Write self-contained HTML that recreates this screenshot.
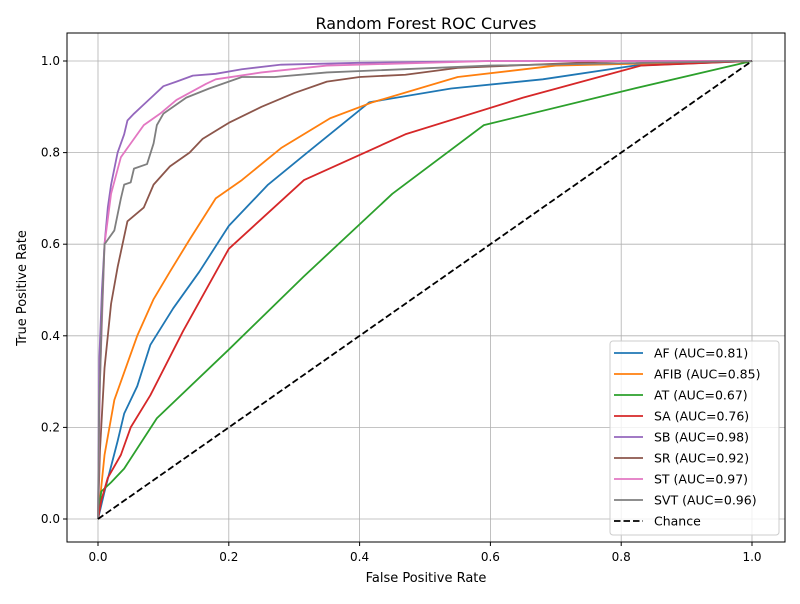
<!DOCTYPE html>
<html><head><meta charset="utf-8"><style>
body{margin:0;background:#fff;font-family:"DejaVu Sans","Liberation Sans",sans-serif}
svg text{font-family:"DejaVu Sans","Liberation Sans",sans-serif;fill:#000}
</style></head><body>
<svg id="chart" width="800" height="600" xmlns="http://www.w3.org/2000/svg">
<rect width="800" height="600" fill="#fff"/>
<g id="grid"></g>
<g id="series"></g>
<rect x="67" y="33" width="718" height="509" fill="none" stroke="#000" stroke-width="1"/>
<g id="ticks"></g>
<text x="426" y="29" font-size="16" text-anchor="middle">Random Forest ROC Curves</text>
<text x="426" y="582" font-size="13" text-anchor="middle">False Positive Rate</text>
<text x="0" y="0" font-size="13" text-anchor="middle" transform="translate(26,288) rotate(-90)">True Positive Rate</text>
<g id="legend"></g>
</svg>
<script>
const seriesNames = ["AF","AFIB","AT","SA","SB","SR","ST","SVT"];
const aucValues = ["0.81","0.85","0.67","0.76","0.98","0.92","0.97","0.96"];
const colors = ["#1f77b4","#ff7f0e","#2ca02c","#d62728","#9467bd","#8c564b","#e377c2","#7f7f7f"];
const tickValues = [0,0.2,0.4,0.6,0.8,1.0];
const tickLabels = ["0.0","0.2","0.4","0.6","0.8","1.0"];
const fprAF = [0,0.01,0.03,0.04,0.06,0.08,0.115,0.155,0.2,0.26,0.32,0.415,0.54,0.68,0.82,1];
const tprAF = [0,0.06,0.17,0.23,0.29,0.38,0.46,0.54,0.64,0.73,0.8,0.91,0.94,0.96,0.99,1];
const fprAFIB = [0,0.01,0.025,0.04,0.06,0.085,0.11,0.14,0.18,0.22,0.28,0.355,0.42,0.55,0.7,1];
const tprAFIB = [0,0.14,0.26,0.32,0.4,0.48,0.54,0.61,0.7,0.74,0.81,0.875,0.91,0.965,0.99,1];
const fprAT = [0,0.005,0.02,0.04,0.09,0.2,0.315,0.45,0.59,0.82,1];
const tprAT = [0,0.06,0.08,0.11,0.22,0.37,0.53,0.71,0.86,0.94,1];
const fprSA = [0,0.005,0.015,0.035,0.05,0.08,0.13,0.2,0.315,0.47,0.65,0.83,1];
const tprSA = [0,0.04,0.09,0.14,0.2,0.27,0.41,0.59,0.74,0.84,0.92,0.99,1];
const fprSB = [0,0.002,0.006,0.01,0.015,0.02,0.03,0.04,0.045,0.055,0.07,0.085,0.1,0.12,0.145,0.18,0.22,0.28,0.4,0.6,1];
const tprSB = [0,0.35,0.5,0.6,0.68,0.73,0.8,0.84,0.87,0.885,0.905,0.925,0.945,0.955,0.968,0.972,0.982,0.992,0.996,1,1];
const fprSR = [0,0.003,0.01,0.02,0.03,0.045,0.07,0.085,0.11,0.14,0.16,0.2,0.25,0.3,0.35,0.4,0.47,0.55,0.8,1];
const tprSR = [0,0.15,0.33,0.47,0.55,0.65,0.68,0.73,0.77,0.8,0.83,0.865,0.9,0.93,0.955,0.965,0.97,0.985,1,1];
const fprST = [0,0.003,0.01,0.02,0.035,0.045,0.07,0.095,0.12,0.165,0.18,0.25,0.35,0.6,1];
const tprST = [0,0.3,0.6,0.71,0.79,0.81,0.86,0.885,0.915,0.95,0.96,0.975,0.99,1,1];
const fprSVT = [0,0.002,0.006,0.01,0.015,0.025,0.035,0.04,0.05,0.055,0.075,0.085,0.09,0.1,0.135,0.17,0.22,0.27,0.35,0.6,1];
const tprSVT = [0,0.25,0.45,0.6,0.61,0.63,0.7,0.73,0.735,0.765,0.775,0.82,0.86,0.885,0.92,0.94,0.965,0.965,0.975,0.99,1];
const fprAll = [fprAF,fprAFIB,fprAT,fprSA,fprSB,fprSR,fprST,fprSVT];
const tprAll = [tprAF,tprAFIB,tprAT,tprSA,tprSB,tprSR,tprST,tprSVT];

const NS="http://www.w3.org/2000/svg";
const xs = v => 98 + v*654;
const ys = v => 519 - v*458;
function mk(tag, attrs, parent){const e=document.createElementNS(NS,tag);for(const k in attrs)e.setAttribute(k,attrs[k]);parent.appendChild(e);return e;}
const grid=document.getElementById('grid'), ticks=document.getElementById('ticks'), ser=document.getElementById('series'), leg=document.getElementById('legend');
tickValues.forEach((v,i)=>{
  let g=mk('line',{x1:xs(v),x2:xs(v),y1:33,y2:542,stroke:'#b0b0b0','stroke-width':0.8},grid);
  
  
  g=mk('line',{x1:67,x2:785,y1:ys(v),y2:ys(v),stroke:'#b0b0b0','stroke-width':0.8},grid);
  
  
  mk('line',{x1:xs(v),x2:xs(v),y1:542,y2:546,stroke:'#000'},ticks);
  mk('line',{x1:63,x2:67,y1:ys(v),y2:ys(v),stroke:'#000'},ticks);
  let t=mk('text',{x:xs(v),y:561,'font-size':12,'text-anchor':'middle'},ticks);t.textContent=tickLabels[i];
  
  
  t=mk('text',{x:60,y:ys(v)+4,'font-size':12,'text-anchor':'end'},ticks);t.textContent=tickLabels[i];
  
  
});
fprAll.forEach((fx,i)=>{
  const pts=fx.map((x,j)=>xs(x)+','+ys(tprAll[i][j])).join(' ');
  const p=mk('polyline',{points:pts,fill:'none',stroke:colors[i],'stroke-width':1.8,'stroke-linejoin':'round'},ser);
  
  
});
const ch=mk('line',{x1:xs(0),y1:ys(0),x2:xs(1),y2:ys(1),stroke:'#000','stroke-width':1.8,'stroke-dasharray':'6.5,3'},ser);


const box=mk('rect',{x:610,y:341,width:169,height:194,rx:3,fill:'#fff','fill-opacity':0.8,stroke:'#ccc'},leg);


const labels=seriesNames.map((n,i)=>n+' (AUC='+aucValues[i]+')').concat(['Chance']);
labels.forEach((l,i)=>{
  const y=353+i*21;
  const g=mk('g',{},leg);
  
  
  mk('line',{x1:614,x2:643,y1:y,y2:y,stroke:i<8?colors[i]:'#000','stroke-width':1.8,'stroke-dasharray':i<8?'none':'6.5,3'},g);
  const t=mk('text',{x:654,y:y+4.5,'font-size':12.5},g);t.textContent=l;
});
</script>
</body></html>
